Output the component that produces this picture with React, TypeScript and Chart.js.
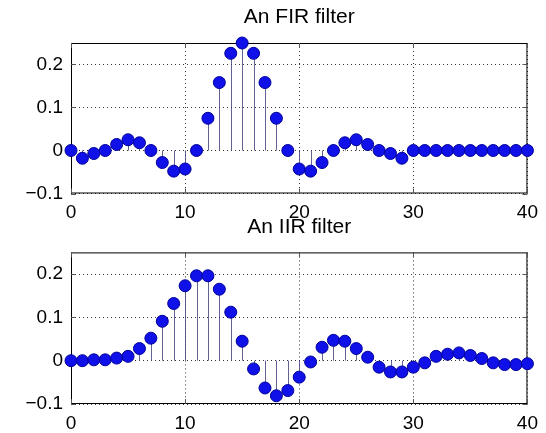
import React, { useEffect, useRef } from 'react';
import { Chart, registerables } from 'chart.js';

Chart.register(...registerables);

const sampleIndex = [0, 1, 2, 3, 4, 5, 6, 7, 8, 9, 10, 11, 12, 13, 14, 15, 16, 17, 18, 19, 20,
  21, 22, 23, 24, 25, 26, 27, 28, 29, 30, 31, 32, 33, 34, 35, 36, 37, 38, 39, 40];

const firValues = [0, -0.018, -0.007, 0, 0.014, 0.025, 0.018, 0, -0.028, -0.048, -0.043, 0,
  0.075, 0.158, 0.226, 0.25, 0.226, 0.158, 0.075, 0, -0.043, -0.048, -0.028, 0, 0.018, 0.025,
  0.014, 0, -0.007, -0.018, 0, 0, 0, 0, 0, 0, 0, 0, 0, 0, 0];

const iirValues = [0, 0, 0.002, 0.002, 0.006, 0.01, 0.028, 0.052, 0.091, 0.132, 0.173, 0.196,
  0.196, 0.165, 0.112, 0.045, -0.019, -0.063, -0.081, -0.069, -0.038, -0.003, 0.031, 0.047,
  0.045, 0.028, 0.008, -0.015, -0.026, -0.026, -0.015, -0.005, 0.01, 0.015, 0.018, 0.012,
  0.005, -0.005, -0.009, -0.009, -0.007];

const xTicks = [0, 10, 20, 30, 40];
const yTicks = [-0.1, 0, 0.1, 0.2];
const xRange = [0, 40];
const yRange = [-0.1, 0.25];

const FONT = '"Liberation Sans", Arial, Helvetica, sans-serif';

const stemPlugin = {
  id: 'stems',
  beforeDatasetsDraw(chart: any) {
    const { ctx, chartArea, scales } = chart;
    const xs = scales.x;
    const ys = scales.y;
    ctx.save();
    ctx.strokeStyle = '#000';
    ctx.lineWidth = 1;
    ctx.setLineDash([]);
    ctx.strokeRect(chartArea.left + 0.5, chartArea.top + 0.5, chartArea.right - chartArea.left - 1, chartArea.bottom - chartArea.top - 1);
    ctx.strokeStyle = '#555';
    ctx.beginPath();
    xTicks.forEach((t) => {
      const px = Math.round(xs.getPixelForValue(t)) + 0.5;
      ctx.moveTo(px, chartArea.top);
      ctx.lineTo(px, chartArea.top + 5);
      ctx.moveTo(px, chartArea.bottom);
      ctx.lineTo(px, chartArea.bottom - 5);
    });
    yTicks.forEach((t) => {
      const py = Math.round(ys.getPixelForValue(t)) + 0.5;
      ctx.moveTo(chartArea.left, py);
      ctx.lineTo(chartArea.left + 5, py);
      ctx.moveTo(chartArea.right, py);
      ctx.lineTo(chartArea.right - 5, py);
    });
    ctx.stroke();
    ctx.strokeStyle = 'rgba(70,70,130,0.85)';
    ctx.lineWidth = 1;
    const y0 = ys.getPixelForValue(0);
    chart.data.datasets.forEach((ds: any) => {
      ctx.beginPath();
      ds.data.forEach((p: any) => {
        const px = Math.round(xs.getPixelForValue(p.x)) + 0.5;
        ctx.moveTo(px, y0);
        ctx.lineTo(px, ys.getPixelForValue(p.y));
      });
      ctx.stroke();
    });
    ctx.restore();
  },
};

function StemChart(props: { title: string; values: number[]; padTop: number; padBottom: number }) {
  const ref = useRef<HTMLCanvasElement>(null);
  useEffect(() => {
    if (!ref.current) return;
    const data = sampleIndex.map((x, i) => ({ x, y: props.values[i] }));
    const chart = new Chart(ref.current, {
      type: 'scatter',
      data: {
        datasets: [
          {
            data,
            showLine: false,
            pointRadius: 6,
            pointHoverRadius: 6,
            pointBackgroundColor: '#1010e8',
            pointBorderColor: '#00009a',
            pointBorderWidth: 1,
            clip: false as any,
          },
        ],
      },
      options: {
        responsive: false,
        animation: false,
        events: [],
        layout: { padding: { top: props.padTop, left: 0, right: 18, bottom: props.padBottom } },
        plugins: {
          legend: { display: false },
          tooltip: { enabled: false },
          title: {
            display: true,
            fullSize: false,
            text: props.title,
            color: '#000',
            font: { family: FONT, size: 21, weight: 'normal' as any, lineHeight: 1.2 },
            padding: { top: 0, bottom: 12.8 },
          },
        },
        scales: {
          x: {
            type: 'linear',
            min: xRange[0],
            max: xRange[1],
            afterBuildTicks: (s: any) => { s.ticks = xTicks.map((v) => ({ value: v })); },
            afterFit: (s: any) => { s.height = 25; },
            grid: { color: '#333', lineWidth: 1, drawTicks: false },
            border: { display: false, dash: [1, 3] },
            ticks: { color: '#000', font: { family: FONT, size: 19 }, padding: 8, maxRotation: 0, callback: (v: any) => String(v) },
          },
          y: {
            type: 'linear',
            min: yRange[0],
            max: yRange[1],
            afterBuildTicks: (s: any) => { s.ticks = yTicks.map((v) => ({ value: v })); },
            afterFit: (s: any) => { s.width = 71; },
            grid: { color: '#333', lineWidth: 1, drawTicks: false },
            border: { display: false, dash: [1, 3] },
            ticks: {
              color: '#000',
              font: { family: FONT, size: 19 },
              padding: 8,
              callback: (v: any) => {
                const n = Number(v);
                if (Math.abs(n) < 1e-9) return '0';
                return (n < 0 ? '\u2212' : '') + Math.abs(n).toFixed(1);
              },
            },
          },
        },
      },
      plugins: [stemPlugin],
    });
    return () => chart.destroy();
  }, []);
  return (
    <canvas
      ref={ref}
      width={546}
      height={433}
      style={{ position: 'absolute', left: 0, top: 0, width: 546, height: 433 }}
    />
  );
}

export default function App() {
  return (
    <div style={{ position: 'fixed', left: 0, top: 0, width: 546, height: 433, background: '#fff' }}>
      <StemChart title="An FIR filter" values={firValues} padTop={5} padBottom={214.5} />
      <StemChart title="An IIR filter" values={iirValues} padTop={214.4} padBottom={4} />
    </div>
  );
}
